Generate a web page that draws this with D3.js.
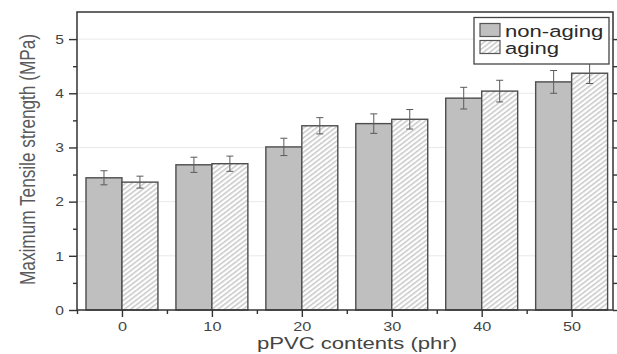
<!DOCTYPE html>
<html><head><meta charset="utf-8">
<script src="https://cdn.jsdelivr.net/npm/d3@7"></script>
<style>
html,body{margin:0;padding:0;background:#fff;}
svg{display:block;font-family:"Liberation Sans",Arial,Helvetica,sans-serif;}
</style></head>
<body>
<svg id="chart" width="617" height="354"></svg>
<script>
// ---- data ----
const categories = [0, 10, 20, 30, 40, 50];
const nonAging    = [2.44, 2.68, 3.01, 3.44, 3.91, 4.21];
const nonAgingErr = [0.13, 0.14, 0.16, 0.18, 0.20, 0.21];
const aging       = [2.36, 2.70, 3.40, 3.52, 4.04, 4.37];
const agingErr    = [0.11, 0.14, 0.15, 0.18, 0.20, 0.19];
const seriesNames = ["non-aging", "aging"];
const yTicks = [0, 1, 2, 3, 4, 5];
const xLabel = "pPVC contents (phr)";
const yLabel = "Maximum Tensile strength (MPa)";

(function () {
// ---- layout ----
const SX = 1.3;               // horizontal text stretch of the reference
const pL = 77, pR = 613, pT = 12, pB = 310;
const barW = 4;               // bar width in x-units
const svg = d3.select("#chart");

const x = d3.scaleLinear().domain([-5, 54.6]).range([pL, pR]);
const y = d3.scaleLinear().domain([0, 5.5]).range([pB, pT]);

// hatch pattern
const defs = svg.append("defs");
const pat = defs.append("pattern").attr("id", "hatch")
  .attr("patternUnits", "userSpaceOnUse")
  .attr("width", 3.4).attr("height", 10)
  .attr("patternTransform", "scale(1.3,1) rotate(45)");
pat.append("rect").attr("width", 3.4).attr("height", 10).attr("fill", "#fff");
pat.append("line").attr("x1", 0.7).attr("y1", 0).attr("x2", 0.7).attr("y2", 10)
  .attr("stroke", "#bcbcbc").attr("stroke-width", 1.1);

// gridlines
svg.append("g").selectAll("line").data(yTicks.filter(d => d > 0)).join("line")
  .attr("x1", pL).attr("x2", pR)
  .attr("y1", d => y(d)).attr("y2", d => y(d))
  .attr("stroke", "#e8e8e8").attr("stroke-width", 1);

const rows = categories.map((c, i) => ({c, na: nonAging[i], nae: nonAgingErr[i], a: aging[i], ae: agingErr[i]}));

// bars
const gBars = svg.append("g");
gBars.selectAll("rect.na").data(rows).join("rect").attr("class", "na")
  .attr("x", d => x(d.c - barW)).attr("width", d => x(d.c) - x(d.c - barW))
  .attr("y", d => y(d.na)).attr("height", d => y(0) - y(d.na))
  .attr("fill", "#bfbfbf").attr("stroke", "#4d4d4d").attr("stroke-width", 1.4);
gBars.selectAll("rect.ag").data(rows).join("rect").attr("class", "ag")
  .attr("x", d => x(d.c)).attr("width", d => x(d.c + barW) - x(d.c))
  .attr("y", d => y(d.a)).attr("height", d => y(0) - y(d.a))
  .attr("fill", "url(#hatch)").attr("stroke", "#4d4d4d").attr("stroke-width", 1.4);

// error bars
function errBars(cx, v, e) {
  const g = svg.append("g").attr("stroke", "#5a5a5a").attr("stroke-width", 1);
  g.selectAll("line.v").data(rows).join("line").attr("class", "v")
    .attr("x1", d => x(cx(d))).attr("x2", d => x(cx(d)))
    .attr("y1", d => y(v(d) + e(d))).attr("y2", d => y(v(d) - e(d)));
  [1, -1].forEach((s, k) => {
    g.selectAll("line.c" + k).data(rows).join("line").attr("class", "c" + k)
      .attr("x1", d => x(cx(d)) - 3.5).attr("x2", d => x(cx(d)) + 3.5)
      .attr("y1", d => y(v(d) + s * e(d))).attr("y2", d => y(v(d) + s * e(d)));
  });
}
errBars(d => d.c - barW / 2, d => d.na, d => d.nae);
errBars(d => d.c + barW / 2, d => d.a, d => d.ae);

// axes
const axisColor = "#333";
function styleAxis(g) {
  g.selectAll("path,line").attr("stroke", axisColor).attr("stroke-width", 1.4);
}
const xMinor = d3.range(-5, 50, 10);
const yMinor = d3.range(0.5, 5.0, 1);

// bottom axis
const gx = svg.append("g").attr("transform", `translate(0,${pB})`)
  .call(d3.axisBottom(x).tickValues(categories).tickSize(7).tickSizeOuter(0).tickFormat(d3.format("d")));
gx.select(".domain").remove();
gx.selectAll("text").attr("font-size", 12.5).attr("fill", "#444").attr("font-family", null)
  .attr("y", 0).attr("dy", 0)
  .attr("transform", `translate(0,20.5) scale(${SX},1)`);
styleAxis(gx);
svg.append("g").attr("transform", `translate(0,${pB})`)
  .call(d3.axisBottom(x).tickValues(xMinor).tickSize(4).tickFormat(""))
  .call(g => g.select(".domain").remove()).call(styleAxis);

// left axis
const gy = svg.append("g").attr("transform", `translate(${pL},0)`)
  .call(d3.axisLeft(y).tickValues(yTicks).tickSize(8).tickSizeOuter(0).tickFormat(d3.format("d")));
gy.select(".domain").remove();
gy.selectAll("text").attr("font-size", 12).attr("fill", "#444").attr("font-family", null)
  .attr("x", -13 / SX).attr("dy", "0.36em")
  .attr("transform", `scale(${SX},1)`);
styleAxis(gy);
svg.append("g").attr("transform", `translate(${pL},0)`)
  .call(d3.axisLeft(y).tickValues(yMinor).tickSize(4).tickFormat(""))
  .call(g => g.select(".domain").remove()).call(styleAxis);

// right axis
svg.append("g").attr("transform", `translate(${pR},0)`)
  .call(d3.axisRight(y).tickValues(yTicks).tickSize(8).tickFormat(""))
  .call(g => g.select(".domain").remove()).call(styleAxis);
svg.append("g").attr("transform", `translate(${pR},0)`)
  .call(d3.axisRight(y).tickValues(yMinor).tickSize(5).tickFormat(""))
  .call(g => g.select(".domain").remove()).call(styleAxis);

// frame
svg.append("rect").attr("x", pL).attr("y", pT)
  .attr("width", pR - pL).attr("height", pB - pT)
  .attr("fill", "none").attr("stroke", axisColor).attr("stroke-width", 1.5);

// axis titles
svg.append("text").attr("transform", `translate(357,349) scale(${SX},1)`)
  .attr("text-anchor", "middle").attr("font-size", 17).attr("fill", "#444").text(xLabel);
svg.append("text").attr("transform", `translate(34.5,159.5) scale(${SX},1) rotate(-90)`)
  .attr("text-anchor", "middle").attr("font-size", 17.2).attr("fill", "#5a5a5a").text(yLabel);

// legend
const lg = svg.append("g");
lg.append("rect").attr("x", 474).attr("y", 17.5).attr("width", 135).attr("height", 46.5)
  .attr("fill", "#fff").attr("stroke", "#444").attr("stroke-width", 1.3);
const fills = ["#bfbfbf", "url(#hatch)"];
seriesNames.forEach((name, i) => {
  lg.append("rect").attr("x", 480).attr("y", 23.5 + i * 17).attr("width", 20).attr("height", 13)
    .attr("fill", fills[i]).attr("stroke", "#555").attr("stroke-width", 1.2);
  lg.append("text").attr("transform", `translate(505,${36.5 + i * 17.5}) scale(${SX},1)`)
    .attr("font-size", 17).attr("fill", "#2a2a2a").text(name);
});
})();
</script>
</body></html>
